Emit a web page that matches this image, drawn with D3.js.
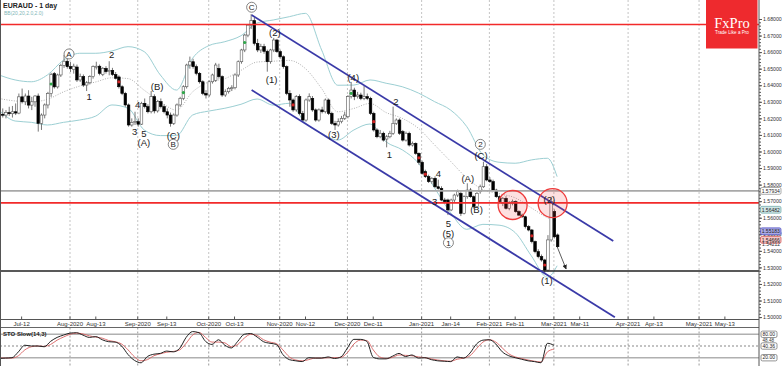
<!DOCTYPE html>
<html>
<head>
<meta charset="utf-8">
<script src="https://cdn.jsdelivr.net/npm/d3@7"></script>
<style>
  body { margin: 0; background: #fff; }
  svg { display: block; font-family: "Liberation Sans", Arial, sans-serif; }
</style>
</head>
<body>
<svg width="782" height="366"></svg>
<script>
// ---- data ----
const startDate = "2020-07-02";   // first candle, one per trading day after it

// [open, high, low, close]
const candles = [
  [1.6215,1.6245,1.6195,1.6225],[1.6225,1.6260,1.6205,1.6220],[1.6220,1.6250,1.6200,1.6235],[1.6235,1.6270,1.6215,1.6228],
  [1.6228,1.6275,1.6205,1.6240],[1.6240,1.6290,1.6220,1.6232],[1.6232,1.6350,1.6225,1.6330],[1.6330,1.6380,1.6290,1.6300],
  [1.6300,1.6350,1.6280,1.6335],[1.6335,1.6370,1.6260,1.6280],[1.6280,1.6330,1.6250,1.6300],[1.6300,1.6340,1.6270,1.6335],
  [1.6335,1.6350,1.6120,1.6170],[1.6170,1.6230,1.6130,1.6220],[1.6220,1.6290,1.6200,1.6281],[1.6281,1.6360,1.6260,1.6350],
  [1.6350,1.6475,1.6330,1.6465],[1.6470,1.6480,1.6380,1.6390],[1.6390,1.6470,1.6380,1.6462],[1.6462,1.6530,1.6450,1.6520],
  [1.6520,1.6583,1.6505,1.6545],[1.6545,1.6575,1.6500,1.6512],[1.6512,1.6540,1.6480,1.6500],[1.6495,1.6530,1.6470,1.6515],
  [1.6510,1.6525,1.6420,1.6432],[1.6432,1.6470,1.6420,1.6452],[1.6452,1.6465,1.6390,1.6401],[1.6401,1.6425,1.6365,1.6415],
  [1.6415,1.6460,1.6405,1.6452],[1.6452,1.6520,1.6440,1.6512],[1.6512,1.6542,1.6495,1.6515],[1.6515,1.6525,1.6460,1.6472],
  [1.6465,1.6510,1.6455,1.6502],[1.6502,1.6515,1.6470,1.6482],[1.6482,1.6545,1.6460,1.6490],[1.6490,1.6505,1.6455,1.6465],
  [1.6465,1.6480,1.6435,1.6442],[1.6450,1.6460,1.6380,1.6391],[1.6391,1.6400,1.6340,1.6351],[1.6351,1.6360,1.6270,1.6281],
  [1.6281,1.6290,1.6150,1.6160],[1.6160,1.6200,1.6150,1.6175],[1.6175,1.6240,1.6160,1.6180],[1.6180,1.6200,1.6150,1.6165],
  [1.6165,1.6300,1.6160,1.6291],[1.6291,1.6320,1.6260,1.6271],[1.6271,1.6285,1.6230,1.6240],[1.6240,1.6365,1.6230,1.6331],
  [1.6331,1.6345,1.6230,1.6245],[1.6245,1.6310,1.6235,1.6301],[1.6301,1.6320,1.6260,1.6271],[1.6271,1.6285,1.6230,1.6240],
  [1.6240,1.6260,1.6200,1.6220],[1.6220,1.6235,1.6150,1.6170],[1.6170,1.6230,1.6160,1.6220],[1.6220,1.6290,1.6210,1.6281],
  [1.6281,1.6330,1.6270,1.6321],[1.6321,1.6400,1.6310,1.6391],[1.6391,1.6530,1.6380,1.6522],[1.6522,1.6573,1.6500,1.6542],
  [1.6542,1.6560,1.6500,1.6512],[1.6512,1.6525,1.6460,1.6472],[1.6472,1.6480,1.6410,1.6421],[1.6421,1.6430,1.6340,1.6351],
  [1.6351,1.6370,1.6320,1.6341],[1.6341,1.6430,1.6330,1.6421],[1.6421,1.6470,1.6410,1.6462],[1.6430,1.6535,1.6420,1.6522],
  [1.6502,1.6530,1.6440,1.6452],[1.6452,1.6460,1.6330,1.6341],[1.6341,1.6375,1.6330,1.6361],[1.6361,1.6390,1.6350,1.6381],
  [1.6381,1.6400,1.6365,1.6385],[1.6385,1.6470,1.6375,1.6462],[1.6462,1.6550,1.6450,1.6542],[1.6542,1.6620,1.6530,1.6613],
  [1.6613,1.6710,1.6600,1.6703],[1.6703,1.6770,1.6690,1.6763],[1.6763,1.6830,1.6740,1.6790],[1.6790,1.6810,1.6640,1.6653],
  [1.6653,1.6680,1.6600,1.6613],[1.6613,1.6650,1.6595,1.6633],[1.6633,1.6650,1.6590,1.6605],[1.6605,1.6615,1.6482,1.6542],
  [1.6542,1.6620,1.6530,1.6613],[1.6613,1.6686,1.6600,1.6673],[1.6673,1.6680,1.6595,1.6603],[1.6603,1.6615,1.6560,1.6572],
  [1.6572,1.6580,1.6500,1.6512],[1.6512,1.6520,1.6340,1.6351],[1.6351,1.6370,1.6270,1.6311],[1.6311,1.6320,1.6240,1.6251],
  [1.6251,1.6340,1.6240,1.6331],[1.6331,1.6345,1.6220,1.6230],[1.6230,1.6245,1.6180,1.6190],[1.6190,1.6320,1.6180,1.6311],
  [1.6311,1.6351,1.6300,1.6331],[1.6321,1.6335,1.6240,1.6251],[1.6251,1.6260,1.6180,1.6190],[1.6190,1.6260,1.6180,1.6251],
  [1.6251,1.6270,1.6230,1.6240],[1.6240,1.6320,1.6230,1.6311],[1.6311,1.6320,1.6220,1.6230],[1.6230,1.6240,1.6160,1.6170],
  [1.6170,1.6185,1.6130,1.6160],[1.6160,1.6200,1.6150,1.6180],[1.6180,1.6215,1.6170,1.6200],[1.6200,1.6240,1.6190,1.6220],
  [1.6210,1.6340,1.6200,1.6331],[1.6331,1.6420,1.6320,1.6371],[1.6371,1.6385,1.6310,1.6331],[1.6331,1.6360,1.6320,1.6341],
  [1.6341,1.6355,1.6310,1.6321],[1.6321,1.6395,1.6310,1.6331],[1.6331,1.6350,1.6310,1.6321],[1.6321,1.6330,1.6220,1.6230],
  [1.6230,1.6240,1.6120,1.6130],[1.6130,1.6140,1.6080,1.6089],[1.6089,1.6130,1.6080,1.6110],[1.6110,1.6120,1.6060,1.6069],
  [1.6075,1.6100,1.6025,1.6089],[1.6089,1.6125,1.6080,1.6110],[1.6110,1.6271,1.6100,1.6170],[1.6170,1.6200,1.6160,1.6190],
  [1.6190,1.6200,1.6100,1.6110],[1.6120,1.6130,1.6060,1.6069],[1.6069,1.6120,1.6060,1.6110],[1.6110,1.6120,1.6030,1.6039],
  [1.6039,1.6060,1.6030,1.6049],[1.6049,1.6055,1.5980,1.5989],[1.5989,1.5995,1.5920,1.5935],[1.5935,1.5945,1.5860,1.5868],
  [1.5878,1.5890,1.5840,1.5848],[1.5848,1.5860,1.5810,1.5818],[1.5818,1.5845,1.5805,1.5838],[1.5838,1.5850,1.5780,1.5787],
  [1.5787,1.5830,1.5770,1.5777],[1.5777,1.5790,1.5700,1.5707],[1.5707,1.5720,1.5690,1.5697],[1.5707,1.5715,1.5616,1.5647],
  [1.5647,1.5715,1.5640,1.5707],[1.5707,1.5745,1.5695,1.5737],[1.5737,1.5770,1.5725,1.5757],[1.5747,1.5760,1.5610,1.5627],
  [1.5627,1.5735,1.5620,1.5727],[1.5727,1.5808,1.5715,1.5767],[1.5767,1.5780,1.5720,1.5727],[1.5727,1.5735,1.5655,1.5667],
  [1.5667,1.5755,1.5660,1.5747],[1.5757,1.5800,1.5745,1.5787],[1.5787,1.5938,1.5780,1.5908],[1.5908,1.5925,1.5820,1.5828],
  [1.5828,1.5845,1.5810,1.5818],[1.5818,1.5830,1.5760,1.5767],[1.5767,1.5775,1.5720,1.5727],[1.5727,1.5735,1.5690,1.5697],
  [1.5687,1.5725,1.5670,1.5717],[1.5717,1.5730,1.5650,1.5657],[1.5657,1.5700,1.5645,1.5687],[1.5687,1.5710,1.5675,1.5697],
  [1.5697,1.5705,1.5630,1.5637],[1.5637,1.5645,1.5610,1.5616],[1.5616,1.5625,1.5598,1.5606],[1.5606,1.5612,1.5535,1.5546],
  [1.5546,1.5555,1.5518,1.5526],[1.5526,1.5532,1.5445,1.5456],[1.5456,1.5462,1.5385,1.5395],[1.5395,1.5410,1.5355,1.5365],
  [1.5365,1.5378,1.5335,1.5345],[1.5345,1.5352,1.5268,1.5284],[1.5284,1.5495,1.5275,1.5466],[1.5466,1.5727,1.5455,1.5697],
  [1.5637,1.5650,1.5475,1.5485],[1.5496,1.5505,1.5421,1.5425]
];

const buyMarks = [16, 57, 76, 109];                 // green dots (bar numbers)
const sellMarks = [37, 91, 116, 130, 132, 165, 169]; // red dots

// Bollinger bands, read every 5th bar
const bandBars = [0,5,10,15,20,25,30,35,40,45,50,55,60,65,70,75,80,85,90,95,100,105,110,115,120,125,130,135,140,145,150,155,160,165,170,173];
const bbUpper = [1.6462,1.6432,1.6421,1.6462,1.6552,1.6593,1.6593,1.6607,1.6633,1.6603,1.6462,1.6371,1.6563,1.6639,1.6663,1.6699,1.6776,1.6794,1.6814,1.6834,1.6613,1.6400,1.6401,1.6432,1.6412,1.6391,1.6353,1.6301,1.6250,1.6150,1.5980,1.5935,1.5929,1.5949,1.5959,1.5848];
const bbMiddle = [1.6320,1.6305,1.6300,1.6315,1.6360,1.6395,1.6420,1.6445,1.6440,1.6370,1.6300,1.6250,1.6360,1.6420,1.6440,1.6490,1.6540,1.6545,1.6550,1.6500,1.6380,1.6240,1.6260,1.6290,1.6235,1.6200,1.6140,1.6040,1.5940,1.5840,1.5770,1.5745,1.5720,1.5660,1.5600,1.5580];
const bbLower = [1.6250,1.6184,1.6176,1.6160,1.6176,1.6190,1.6214,1.6281,1.6261,1.6130,1.6096,1.6096,1.6220,1.6244,1.6261,1.6285,1.6317,1.6280,1.6291,1.6170,1.6110,1.6069,1.6130,1.6166,1.6058,1.6010,1.5930,1.5780,1.5630,1.5530,1.5560,1.5555,1.5510,1.5370,1.5240,1.5310];

// Stochastic slow (14,3), read every 2nd bar
const stochBars = d3.range(0, 173, 2);
const stochK = [18,19,20,35,52,50,50,48,62,72,78,83,84,78,72,74,66,61,60,50,28,13,7,23,29,31,37,35,44,72,87,84,62,54,66,52,45,62,80,82,73,61,57,54,28,15,12,10,20,19,19,22,18,22,45,67,67,62,21,17,17,24,31,23,27,19,20,15,12,11,10,22,19,32,55,65,66,55,35,25,20,16,12,10,7,57,52];
const stochD = [20,19,19,25,40,48,50,49,54,65,73,80,83,81,76,73,70,64,61,55,40,22,12,15,25,30,34,36,40,57,78,85,72,60,60,58,48,54,70,80,77,66,60,56,40,22,14,12,15,19,19,20,20,21,33,55,65,64,40,22,18,21,27,26,25,22,20,17,14,12,11,16,19,25,43,60,66,60,45,30,22,18,14,11,9,35,42];
const stochLevels = [80, 50, 20];

// horizontal levels: price, colour
const levels = [
  [1.6767, "#f22a2a"],
  [1.5762, "#a8a8a8"],
  [1.5690, "#f22a2a"],
  [1.5278, "#222222"]
];

// channel: two parallel lines, [bar, price] at both ends
const channel = [
  [[78.3, 1.6824], [190.4, 1.5459]],
  [[78.3, 1.6371], [190.9, 1.4999]]
];

// highlighted zones [bar, price]
const zones = [[159.2, 1.5677], [171.6, 1.5688]];

// projection arrow from last close
const arrow = [[173, 1.5425], [175.8, 1.5290]];

// Elliott wave labels: text, bar, price, circled
const waveLabels = [
  ["A", 21.7, 1.6589, true], ["1", 27.9, 1.6331, false], ["2", 34.9, 1.6583, false],
  ["4", 43, 1.6281, false], ["3", 42, 1.6120, false], ["5", 44.9, 1.6110, false],
  ["(A)", 44.9, 1.6053, false], ["(B)", 49, 1.6391, false], ["(C)", 54, 1.6095, false],
  ["B", 54, 1.6043, true], ["C", 78.3, 1.6871, true], ["(2)", 85.5, 1.6720, false],
  ["(1)", 84.5, 1.6432, false], ["(3)", 103.8, 1.6100, false], ["(4)", 109.8, 1.6448, false],
  ["1", 121, 1.5979, false], ["2", 123, 1.6300, false], ["2", 149.2, 1.6043, true],
  ["(C)", 149.4, 1.5975, false], ["4", 136.2, 1.5868, false], ["(A)", 145.3, 1.5838, false],
  ["3", 135, 1.5697, false], ["(B)", 148, 1.5647, false], ["5", 139.3, 1.5566, false],
  ["(5)", 139.3, 1.5506, false], ["1", 139.3, 1.5449, true], ["(2)", 170.6, 1.5707, false],
  ["(1)", 169.8, 1.5220, false]
];

// price tags on the right axis: text, price, fill, stroke
const priceTags = [
  ["1.57934", 1.5762, "#ffffff", "#888888"],
  ["1.56482", 1.56482, "#cfe6e6", "#6aa6a6"],
  ["1.55183", 1.55183, "#a9a9e6", "#4a4ac0"],
  ["1.54666", 1.54666, "#f6c8c8", "#d04848"]
];
const plainTag = ["1.54212", 1.5440];

// stochastic tags: text, level
const stochTags = [["80.00", 80], ["40.36", 50], ["20.00", 20]];

// date axis labels: text, calendar date, month start?
const timeTicks = [
  ["Jul-12", "2020-07-12", false], ["Aug-2020", "2020-08-01", true], ["Aug-13", "2020-08-13", false],
  ["Sep-2020", "2020-09-01", true], ["Sep-13", "2020-09-13", false], ["Oct-2020", "2020-10-01", true],
  ["Oct-13", "2020-10-13", false], ["Nov-2020", "2020-11-01", true], ["Nov-12", "2020-11-12", false],
  ["Dec-2020", "2020-12-01", true], ["Dec-11", "2020-12-11", false], ["Jan-2021", "2021-01-01", true],
  ["Jan-14", "2021-01-14", false], ["Feb-2021", "2021-02-01", true], ["Feb-11", "2021-02-11", false],
  ["Mar-2021", "2021-03-01", true], ["Mar-11", "2021-03-11", false], ["Apr-2021", "2021-04-01", true],
  ["Apr-13", "2021-04-13", false], ["May-2021", "2021-05-01", true], ["May-13", "2021-05-13", false]
];

// ---- layout ----
const svg = d3.select("svg");
const plotRight = 759, plotBottom = 319.5, stTop = 327.5;

// trading-day calendar (weekdays) starting at the first candle
const days = [];
for (let d = new Date(startDate + "T00:00:00Z"); days.length < 260; d.setUTCDate(d.getUTCDate() + 1)) {
  const wd = d.getUTCDay();
  if (wd !== 0 && wd !== 6) days.push(new Date(d));
}
const barOf = s => { const t = new Date(s + "T00:00:00Z"); return days.findIndex(d => d >= t); };

const x = d3.scaleLinear().domain([0, 236]).range([-0.97, -0.97 + 3.226 * 236]);
const y = d3.scaleLinear().domain([1.50, 1.68]).range([317.1, 19]);
const yS = d3.scaleLinear().domain([0, 100]).range([365.5, 326.5]);

const defs = svg.append("defs");
defs.append("clipPath").attr("id", "main").append("rect")
  .attr("x", 0).attr("y", 0).attr("width", plotRight).attr("height", plotBottom);
defs.append("clipPath").attr("id", "sto").append("rect")
  .attr("x", 0).attr("y", stTop).attr("width", plotRight).attr("height", 366 - stTop);
const marker = defs.append("marker").attr("id", "arr").attr("viewBox", "0 0 10 10")
  .attr("refX", 9).attr("refY", 5).attr("markerWidth", 6).attr("markerHeight", 6).attr("orient", "auto");
marker.append("path").attr("d", "M0,0L10,5L0,10z").attr("fill", "#222");

// month grid
const monthTicks = timeTicks.filter(t => t[2]);
svg.append("g").selectAll("line").data(monthTicks).join("line")
  .attr("x1", d => x(barOf(d[1]))).attr("x2", d => x(barOf(d[1])))
  .attr("y1", 0).attr("y2", plotBottom)
  .attr("stroke", "#c4c4c4").attr("stroke-dasharray", "2,2");
svg.append("g").selectAll("line").data(monthTicks).join("line")
  .attr("x1", d => x(barOf(d[1]))).attr("x2", d => x(barOf(d[1])))
  .attr("y1", stTop).attr("y2", 366)
  .attr("stroke", "#9a9a9a").attr("stroke-dasharray", "2,2");

const main = svg.append("g").attr("clip-path", "url(#main)");

// Bollinger bands
const bandLine = arr => d3.line().x((d, i) => x(bandBars[i])).y(d => y(d)).curve(d3.curveMonotoneX)(arr);
main.append("path").attr("d", bandLine(bbUpper)).attr("fill", "none").attr("stroke", "#9ccfd3").attr("stroke-width", 1);
main.append("path").attr("d", bandLine(bbLower)).attr("fill", "none").attr("stroke", "#9ccfd3").attr("stroke-width", 1);
main.append("path").attr("d", bandLine(bbMiddle)).attr("fill", "none").attr("stroke", "#9a9a9a")
  .attr("stroke-width", 0.8).attr("stroke-dasharray", "1,1.5");

// candles
const cg = main.append("g");
cg.selectAll("line").data(candles).join("line")
  .attr("x1", (d, i) => x(i) + 0.5).attr("x2", (d, i) => x(i) + 0.5)
  .attr("y1", d => y(d[1])).attr("y2", d => y(d[2]))
  .attr("stroke", "#777").attr("stroke-width", 1);
cg.selectAll("rect").data(candles).join("rect")
  .attr("x", (d, i) => x(i) - 0.8).attr("width", 2.6)
  .attr("y", d => y(Math.max(d[0], d[3])))
  .attr("height", d => Math.max(1, Math.abs(y(d[0]) - y(d[3]))))
  .attr("fill", d => d[3] >= d[0] ? "#ffffff" : "#000000")
  .attr("stroke", d => d[3] >= d[0] ? "#555" : "#000").attr("stroke-width", 0.6);

// signal dots
main.selectAll("circle.buy").data(buyMarks).join("circle").attr("class", "buy")
  .attr("cx", i => x(i) + 0.5).attr("cy", i => y((candles[i][0] + candles[i][3]) / 2))
  .attr("r", 1.6).attr("fill", "#2fa84a");
main.selectAll("circle.sell").data(sellMarks).join("circle").attr("class", "sell")
  .attr("cx", i => x(i) + 0.5).attr("cy", i => y((candles[i][0] + candles[i][3]) / 2))
  .attr("r", 1.6).attr("fill", "#d02424");

// horizontal levels
main.selectAll("line.lvl").data(levels).join("line").attr("class", "lvl")
  .attr("x1", 0).attr("x2", plotRight).attr("y1", d => y(d[0])).attr("y2", d => y(d[0]))
  .attr("stroke", d => d[1]).attr("stroke-width", 1.6);

// channel
main.selectAll("line.ch").data(channel).join("line").attr("class", "ch")
  .attr("x1", d => x(d[0][0])).attr("y1", d => y(d[0][1]))
  .attr("x2", d => x(d[1][0])).attr("y2", d => y(d[1][1]))
  .attr("stroke", "#3a3aa8").attr("stroke-width", 1.8);

// zones
main.selectAll("circle.zone").data(zones).join("circle").attr("class", "zone")
  .attr("cx", d => x(d[0])).attr("cy", d => y(d[1])).attr("r", 14.5)
  .attr("fill", "rgba(240,60,60,0.16)").attr("stroke", "#ee3b3b").attr("stroke-width", 1.3);

// arrow
main.append("line")
  .attr("x1", x(arrow[0][0])).attr("y1", y(arrow[0][1]))
  .attr("x2", x(arrow[1][0])).attr("y2", y(arrow[1][1]))
  .attr("stroke", "#333").attr("stroke-width", 0.8).attr("marker-end", "url(#arr)");

// wave labels
const wl = main.selectAll("g.wl").data(waveLabels).join("g").attr("class", "wl")
  .attr("transform", d => `translate(${x(d[1])},${y(d[2])})`);
wl.filter(d => d[3]).append("circle").attr("r", 5).attr("fill", "#fff").attr("stroke", "#666").attr("stroke-width", 0.8);
wl.append("text").attr("text-anchor", "middle").attr("dy", "0.36em")
  .attr("font-size", d => d[3] ? 8 : 9.5).attr("fill", "#222").text(d => d[0]);

// ---- stochastic panel ----
const sto = svg.append("g").attr("clip-path", "url(#sto)");
sto.selectAll("line").data(stochLevels).join("line")
  .attr("x1", 0).attr("x2", plotRight).attr("y1", d => yS(d)).attr("y2", d => yS(d))
  .attr("stroke", d => d === 50 ? "#555" : "#b0b0b0")
  .attr("stroke-width", d => d === 50 ? 0.7 : 1.6)
  .attr("stroke-dasharray", d => d === 50 ? "2,2" : null);
const stLine = arr => d3.line().x((d, i) => x(stochBars[i])).y(d => yS(d)).curve(d3.curveMonotoneX)(arr);
sto.append("path").attr("d", stLine(stochD)).attr("fill", "none").attr("stroke", "#d86060").attr("stroke-width", 0.9);
sto.append("path").attr("d", stLine(stochK)).attr("fill", "none").attr("stroke", "#222").attr("stroke-width", 1);
svg.append("line").attr("x1", 0).attr("x2", plotRight).attr("y1", stTop).attr("y2", stTop).attr("stroke", "#666");
svg.append("text").attr("x", 3).attr("y", yS(80) + 2).attr("font-size", 6).attr("font-weight", "bold")
  .attr("fill", "#222").text("STO Slow(14,3)");

// ---- frame and axes ----
svg.append("line").attr("x1", 0.5).attr("x2", 0.5).attr("y1", 0).attr("y2", 366).attr("stroke", "#555");
svg.append("line").attr("x1", plotRight).attr("x2", plotRight).attr("y1", 0).attr("y2", 366).attr("stroke", "#555");
svg.append("line").attr("x1", 0).attr("x2", plotRight).attr("y1", plotBottom).attr("y2", plotBottom).attr("stroke", "#555");

// date axis
const xa = svg.append("g");
xa.selectAll("line").data(timeTicks).join("line")
  .attr("x1", d => x(barOf(d[1]))).attr("x2", d => x(barOf(d[1])))
  .attr("y1", plotBottom).attr("y2", plotBottom - 3).attr("stroke", "#555");
xa.selectAll("text").data(timeTicks).join("text")
  .attr("x", d => x(barOf(d[1]))).attr("y", plotBottom + 6)
  .attr("text-anchor", "middle").attr("font-size", 6).attr("fill", "#333").text(d => d[0]);

// price axis
const ya = svg.append("g").attr("transform", `translate(${plotRight},0)`);
ya.call(d3.axisRight(y).tickValues(d3.range(1.50, 1.6801, 0.002)).tickSize(2).tickFormat(""));
ya.call(g => g.selectAll(".domain").remove());
const ya2 = svg.append("g").attr("transform", `translate(${plotRight},0)`);
ya2.call(d3.axisRight(y).tickValues(d3.range(1.50, 1.6801, 0.01)).tickSize(3).tickPadding(1).tickFormat(d3.format(".5f")));
ya2.call(g => g.selectAll(".domain").remove());
ya2.selectAll("text").attr("font-size", 5.2).attr("fill", "#333").attr("font-family", "Liberation Sans, Arial, sans-serif");
svg.selectAll(".tick line").attr("stroke", "#555");

// price tags
const tg = svg.append("g").selectAll("g").data(priceTags).join("g")
  .attr("transform", d => `translate(${plotRight + 1.5},${y(d[1])})`);
tg.append("rect").attr("x", 0).attr("y", -3.4).attr("width", 20.5).attr("height", 6.8).attr("rx", 1.5)
  .attr("fill", d => d[2]).attr("stroke", d => d[3]).attr("stroke-width", 0.7);
tg.append("text").attr("x", 1.2).attr("dy", "0.35em").attr("font-size", 5).attr("fill", "#222").text(d => d[0]);
svg.append("text").attr("x", plotRight + 3).attr("y", y(plainTag[1])).attr("dy", "0.35em")
  .attr("font-size", 5).attr("fill", "#333").text(plainTag[0]);

// stochastic tags
const sg = svg.append("g").selectAll("g").data(stochTags).join("g")
  .attr("transform", d => `translate(${plotRight + 2},${yS(d[1])})`);
sg.append("rect").attr("x", 0).attr("y", -3.2).attr("width", 16).attr("height", 6.4).attr("rx", 1.5)
  .attr("fill", "#fff").attr("stroke", "#666").attr("stroke-width", 0.7);
sg.append("text").attr("x", 1.5).attr("dy", "0.35em").attr("font-size", 5).attr("fill", "#222").text(d => d[0]);
svg.append("text").attr("x", plotRight + 3.5).attr("y", yS(64)).attr("dy", "0.35em")
  .attr("font-size", 4.6).attr("fill", "#333").text("48.48");

// header
svg.append("text").attr("x", 3).attr("y", 7.5).attr("font-size", 7).attr("font-weight", "bold")
  .attr("fill", "#222").text("EURAUD - 1 day");
svg.append("text").attr("x", 4).attr("y", 15).attr("font-size", 5).attr("fill", "#7fb6b8")
  .text("BB(20,20,2.0,2.0)");

// logo
const logo = svg.append("g");
logo.append("rect").attr("x", 706).attr("y", 0).attr("width", 51.5).attr("height", 48.5).attr("fill", "#ee2a2e");
logo.append("text").attr("x", 732).attr("y", 27.5).attr("text-anchor", "middle")
  .attr("font-family", "Liberation Serif, Times New Roman, serif").attr("font-size", 14.5)
  .attr("fill", "#fff").text("FxPro");
logo.append("text").attr("x", 732).attr("y", 33.5).attr("text-anchor", "middle")
  .attr("font-size", 4.6).attr("fill", "#fff").text("Trade Like a Pro");
</script>
</body>
</html>
